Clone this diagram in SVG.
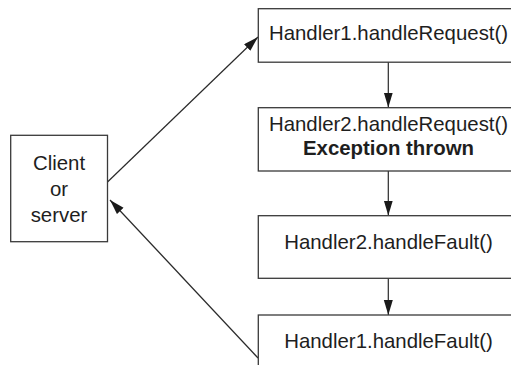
<svg xmlns="http://www.w3.org/2000/svg" width="511" height="365" viewBox="0 0 511 365">
  <defs>
    <style>
      .box { fill: #ffffff; stroke: #3a3a3a; stroke-width: 1.3; }
      .lbl { font-family: "Liberation Sans", Arial, Helvetica, sans-serif; font-size: 20.4px; fill: #1e1e1e; text-anchor: middle; }
      .bold { font-weight: bold; }
      .conn { stroke: #2a2a2a; stroke-width: 1.2; fill: none; marker-end: url(#arrow); }
    </style>
    <marker id="arrow" markerUnits="userSpaceOnUse" markerWidth="16" markerHeight="10" refX="15" refY="4.5" orient="auto">
      <path d="M0,0 L15,4.5 L0,9 z" fill="#1a1a1a"/>
    </marker>
  </defs>
  <rect width="511" height="365" fill="#ffffff"/>

  <!-- connectors -->
  <g id="connectors">
    <line class="conn" x1="107.5" y1="182" x2="258" y2="37"/>
    <line class="conn" x1="388.3" y1="62" x2="388.3" y2="107.5"/>
    <line class="conn" x1="388.3" y1="171" x2="388.3" y2="215.5"/>
    <line class="conn" x1="388.3" y1="278.5" x2="388.3" y2="315"/>
    <line class="conn" x1="258" y1="358" x2="110" y2="200"/>
  </g>

  <!-- client or server -->
  <g id="client">
    <rect class="box" x="10.7" y="135.3" width="96.8" height="106.4"/>
    <text class="lbl" x="59" y="170">Client</text>
    <text class="lbl" x="59" y="196">or</text>
    <text class="lbl" x="59" y="221.5">server</text>
  </g>

  <!-- handler chain -->
  <g id="h1-request">
    <rect class="box" x="258.3" y="8.7" width="260" height="53.5"/>
    <text class="lbl" x="388.5" y="40">Handler1.handleRequest()</text>
  </g>
  <g id="h2-request">
    <rect class="box" x="258.3" y="107.7" width="260" height="63.3"/>
    <text class="lbl" x="388.5" y="130.5">Handler2.handleRequest()</text>
    <text class="lbl bold" x="388.5" y="155">Exception thrown</text>
  </g>
  <g id="h2-fault">
    <rect class="box" x="258.3" y="215.7" width="260" height="62.6"/>
    <text class="lbl" x="388.5" y="249.3">Handler2.handleFault()</text>
  </g>
  <g id="h1-fault">
    <rect class="box" x="258.3" y="315" width="260" height="60"/>
    <text class="lbl" x="388.5" y="348.3">Handler1.handleFault()</text>
  </g>
</svg>
